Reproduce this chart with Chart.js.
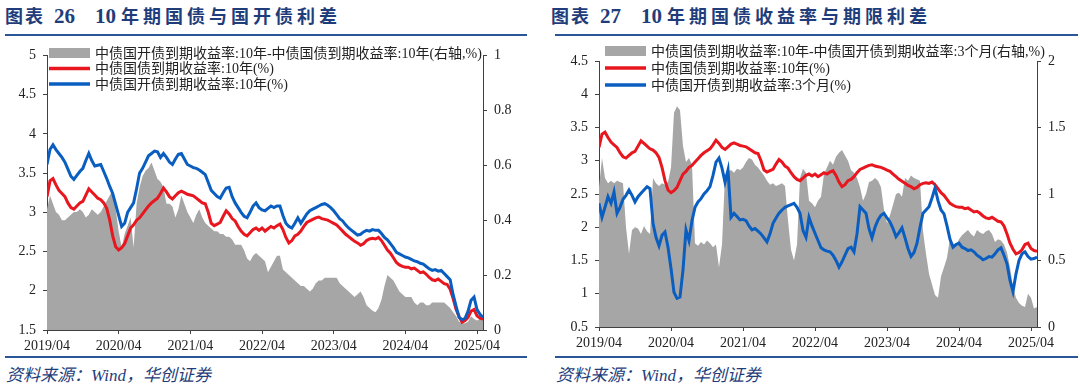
<!DOCTYPE html>
<html>
<head>
<meta charset="utf-8">
<script src="https://cdn.jsdelivr.net/npm/chart.js@4.4.1/dist/chart.umd.min.js"></script>
<style>
    body { margin: 0; background: #fff; }
    #page { position: relative; width: 1080px; height: 390px; overflow: hidden; }
    .title {
        position: absolute; top: 4px; line-height: 24px; font-size: 18px; font-weight: bold;
        color: #1f3d7a; font-family: "Liberation Serif", "Noto Sans CJK SC", serif; white-space: nowrap;
    }
    .title .cj { letter-spacing: 2px; }
    .title .cj2 { letter-spacing: 4px; }
    .title .n1 { font-size: 21px; margin-left: 9px; }
    .title .n2 { font-size: 21px; margin-left: 20px; margin-right: 5px; }
    .rule { position: absolute; height: 2px; background: #2a5599; }
    .source {
        position: absolute; top: 365px; line-height: 22px; font-size: 17px; font-style: italic;
        color: #1f3d7a; font-family: "Liberation Serif", "Noto Sans CJK SC", serif; white-space: nowrap;
    }
    canvas { position: absolute; top: 40px; }
</style>
</head>
<body>
<div id="page">
    <div class="title" style="left:5px"><span class="cj">图表</span><span class="n1">26</span><span class="n2">10</span><span class="cj2">年期国债与国开债利差</span></div>
    <div class="title" style="left:551px"><span class="cj">图表</span><span class="n1">27</span><span class="n2">10</span><span class="cj2">年期国债收益率与期限利差</span></div>
    <div class="rule" style="left:5px;width:522px;top:34px"></div>
    <div class="rule" style="left:555px;width:523px;top:34px"></div>
    <div class="rule" style="left:5px;width:522px;top:356px"></div>
    <div class="rule" style="left:555px;width:523px;top:356px"></div>
    <div class="source" style="left:6px">资料来源：Wind，华创证券</div>
    <div class="source" style="left:556px">资料来源：Wind，华创证券</div>
    <canvas id="chartSpread" width="540" height="320" style="left:0"></canvas>
    <canvas id="chartTerm" width="540" height="320" style="left:540px"></canvas>
</div>
<script>
// one point every half month, starting 2019/04
const pointsPerYear = 24;
const tickLabels = ["2019/04", "2020/04", "2021/04", "2022/04", "2023/04", "2024/04", "2025/04"];

const cgb10y = [
    3.20, 3.40, 3.43, 3.35, 3.28, 3.24, 3.20, 3.12, 3.06, 3.04,
    3.08, 3.12, 3.14, 3.22, 3.30, 3.26, 3.22, 3.18, 3.16, 3.12,
    3.05, 2.90, 2.70, 2.56, 2.52, 2.55, 2.60, 2.70, 2.80, 2.84,
    2.90, 2.93, 2.98, 3.03, 3.08, 3.12, 3.15, 3.18, 3.24, 3.31,
    3.26, 3.20, 3.17, 3.21, 3.25, 3.27, 3.25, 3.23, 3.22, 3.21,
    3.18, 3.15, 3.12, 3.11, 3.00, 2.86, 2.83, 2.85, 2.87, 2.95,
    3.02, 2.98, 2.92, 2.89, 2.82, 2.76, 2.72, 2.70, 2.74, 2.78,
    2.80, 2.77, 2.80, 2.76, 2.79, 2.82, 2.80, 2.83, 2.85, 2.78,
    2.68, 2.61, 2.64, 2.70, 2.72, 2.76, 2.82, 2.87, 2.89, 2.91,
    2.93, 2.94, 2.92, 2.91, 2.90, 2.88, 2.86, 2.84, 2.80, 2.76,
    2.72, 2.69, 2.66, 2.63, 2.61, 2.58, 2.60, 2.64, 2.66, 2.67,
    2.66, 2.68, 2.64, 2.58, 2.52, 2.48, 2.42, 2.36, 2.33, 2.31,
    2.30, 2.30, 2.28, 2.29, 2.26, 2.23, 2.24, 2.21, 2.17, 2.14,
    2.13, 2.15, 2.12, 2.09, 2.08, 2.02, 1.90, 1.76, 1.67, 1.60,
    1.62, 1.66, 1.74, 1.76, 1.68, 1.65, 1.64,
];

const cdb10y = [
    3.61, 3.80, 3.86, 3.80, 3.75, 3.70, 3.64, 3.55, 3.46, 3.42,
    3.47, 3.52, 3.56, 3.66, 3.75, 3.66, 3.59, 3.60, 3.61, 3.52,
    3.43, 3.33, 3.24, 3.10, 2.96, 2.82, 2.86, 3.00, 3.06, 3.12,
    3.30, 3.50, 3.56, 3.64, 3.72, 3.75, 3.78, 3.77, 3.70, 3.75,
    3.70, 3.64, 3.61, 3.68, 3.74, 3.75, 3.68, 3.61, 3.59, 3.57,
    3.56, 3.54, 3.51, 3.48, 3.38, 3.28, 3.24, 3.20, 3.18, 3.25,
    3.31, 3.32, 3.20, 3.12, 3.06, 3.00, 2.95, 2.93, 3.00, 3.08,
    3.12, 3.06, 3.03, 3.02, 3.05, 3.08, 3.06, 3.08, 3.08, 2.96,
    2.86, 2.82, 2.80, 2.86, 2.93, 2.86, 2.92, 2.98, 3.02, 3.04,
    3.06, 3.08, 3.10, 3.11, 3.09, 3.06, 3.02, 2.97, 2.92, 2.89,
    2.84, 2.80, 2.77, 2.74, 2.71, 2.72, 2.75, 2.77, 2.76, 2.78,
    2.77, 2.77, 2.73, 2.68, 2.65, 2.60, 2.55, 2.49, 2.47, 2.45,
    2.43, 2.42, 2.40, 2.38, 2.37, 2.35, 2.34, 2.31, 2.28, 2.26,
    2.27, 2.25, 2.26, 2.22, 2.18, 2.14, 1.95, 1.80, 1.66, 1.63,
    1.65, 1.74, 1.88, 1.92, 1.76, 1.70, 1.66,
];

const spreadCdbCgb = [
    0.44, 0.49, 0.46, 0.43, 0.42, 0.40, 0.40, 0.41, 0.42, 0.43,
    0.43, 0.44, 0.43, 0.41, 0.42, 0.44, 0.43, 0.42, 0.43, 0.45,
    0.47, 0.49, 0.51, 0.44, 0.36, 0.30, 0.35, 0.38, 0.41, 0.30,
    0.46, 0.52, 0.56, 0.58, 0.59, 0.61, 0.58, 0.55, 0.54, 0.52,
    0.46, 0.46, 0.45, 0.41, 0.44, 0.49, 0.46, 0.43, 0.41, 0.39,
    0.42, 0.44, 0.41, 0.39, 0.38, 0.37, 0.36, 0.36, 0.35, 0.35,
    0.34, 0.34, 0.33, 0.31, 0.31, 0.31, 0.29, 0.26, 0.25, 0.27,
    0.28, 0.27, 0.26, 0.25, 0.21, 0.23, 0.25, 0.27, 0.27, 0.22,
    0.21, 0.20, 0.19, 0.18, 0.17, 0.16, 0.16, 0.15, 0.14, 0.15,
    0.17, 0.18, 0.18, 0.19, 0.19, 0.19, 0.19, 0.19, 0.17, 0.16,
    0.15, 0.14, 0.13, 0.12, 0.13, 0.14, 0.12, 0.09, 0.08, 0.07,
    0.065, 0.08, 0.11, 0.16, 0.20, 0.19, 0.18, 0.16, 0.14, 0.13,
    0.12, 0.12, 0.12, 0.10, 0.09, 0.10, 0.10, 0.09, 0.09, 0.10,
    0.10, 0.10, 0.10, 0.10, 0.09, 0.08, 0.065, 0.05, 0.03, 0.025,
    0.025, 0.03, 0.05, 0.04, 0.035, 0.04, 0.04,
];

const cdb3m = [
    2.36, 2.15, 2.30, 2.46, 2.36, 2.53, 2.21, 2.30, 2.42, 2.48,
    2.56, 2.48, 2.38, 2.46, 2.51, 2.56, 2.61, 2.58, 2.06, 1.85,
    1.72, 1.88, 1.93, 1.70, 1.38, 1.02, 0.93, 0.95, 1.36, 1.96,
    1.80, 2.10, 2.30, 2.38, 2.43, 2.50, 2.55, 2.61, 2.78, 2.98,
    3.04, 2.89, 2.68, 2.86, 2.15, 2.21, 2.16, 2.11, 2.12, 2.10,
    2.02, 1.96, 1.98, 1.94, 1.90, 1.84, 1.78, 1.90, 2.06, 2.14,
    2.21, 2.26, 2.30, 2.32, 2.34, 2.36, 2.30, 2.21, 1.95, 1.85,
    2.15, 2.02, 1.91, 1.80, 1.69, 1.66, 1.64, 1.63, 1.58, 1.50,
    1.40, 1.48, 1.58, 1.68, 1.70, 1.63, 1.90, 2.31, 2.26, 2.21,
    1.98, 1.84, 2.00, 2.11, 2.18, 2.21, 2.14, 2.08, 1.98, 1.86,
    1.92, 1.99, 1.84, 1.68, 1.56, 1.62, 1.76, 2.00, 2.21, 2.26,
    2.31, 2.44, 2.59, 2.40, 2.26, 2.20, 2.02, 1.82, 1.70, 1.74,
    1.76, 1.70, 1.68, 1.65, 1.66, 1.63, 1.58, 1.55, 1.51, 1.53,
    1.56, 1.55, 1.60, 1.66, 1.69, 1.58, 1.45, 1.20, 1.03, 1.30,
    1.50, 1.60, 1.63, 1.56, 1.52, 1.53, 1.55,
];

const spreadCgbCdb3m = [
    1.05, 1.27, 1.12, 1.08, 1.10, 1.08, 1.10, 1.09, 1.08, 0.75,
    0.55, 0.73, 0.75, 0.74, 0.70, 0.76, 0.72, 0.70, 1.12, 1.08,
    1.06, 1.08, 1.07, 1.09, 1.20, 1.61, 1.66, 1.63, 1.36, 1.24,
    1.27, 1.22, 0.63, 0.61, 0.64, 0.62, 0.65, 0.63, 0.60, 0.62,
    0.45, 0.62, 1.14, 1.17, 1.18, 1.16, 1.19, 1.18, 1.20, 1.24,
    1.27, 1.26, 1.22, 1.20, 1.17, 1.14, 1.10, 1.07, 1.08, 1.06,
    1.07, 1.08, 1.06, 0.80, 0.58, 0.50, 0.62, 1.12, 1.19, 1.16,
    0.95, 0.93, 0.90, 0.95, 0.98, 1.15, 1.20, 1.25, 1.22, 1.28,
    1.31, 1.33, 1.29, 1.25, 1.18, 1.16, 1.12, 1.05, 0.95, 1.00,
    1.09, 1.10, 1.12, 1.10, 1.05, 0.88, 0.78, 0.84, 0.92, 1.00,
    1.01, 0.98, 1.12, 1.10, 1.14, 1.12, 1.11, 1.10, 0.72, 0.55,
    0.40, 0.32, 0.24, 0.22, 0.38, 0.45, 0.52, 0.67, 0.63, 0.61,
    0.66, 0.69, 0.71, 0.73, 0.70, 0.68, 0.73, 0.71, 0.70, 0.72,
    0.73, 0.70, 0.64, 0.66, 0.65, 0.62, 0.56, 0.45, 0.30, 0.22,
    0.18, 0.16, 0.15, 0.25, 0.22, 0.14, 0.15,
];

const RED = "#e8161f";
const BLUE = "#0a5ec0";
const GREY = "#a6a6a6";
const FONT = '"Liberation Serif", "Noto Sans CJK SC", serif';

const insideLegend = {
    id: "insideLegend",
    afterDraw(chart, args, opts) {
        const ctx = chart.ctx;
        ctx.save();
        ctx.font = `14px ${FONT}`;
        ctx.textBaseline = "middle";
        chart.data.datasets.forEach((ds, k) => {
            const y = opts.top + k * opts.rowHeight;
            if (ds.fill) {
                ctx.fillStyle = ds.backgroundColor;
                ctx.fillRect(opts.left, y - 5, 41, 10);
            } else {
                ctx.strokeStyle = ds.borderColor;
                ctx.lineWidth = 3.5;
                ctx.beginPath();
                ctx.moveTo(opts.left, y);
                ctx.lineTo(opts.left + 41, y);
                ctx.stroke();
            }
            ctx.fillStyle = "#222";
            ctx.fillText(ds.label, opts.left + 46, y + 1);
        });
        ctx.restore();
    },
};

function toPoints(values) {
    return values.map((y, i) => ({ x: i, y }));
}

function areaSeries(label, values) {
    return {
        label,
        data: toPoints(values),
        yAxisID: "y2",
        backgroundColor: GREY,
        borderWidth: 0,
        pointRadius: 0,
        fill: "origin",
        order: 3,
    };
}

function lineSeries(label, values, color, order) {
    return {
        label,
        data: toPoints(values),
        yAxisID: "y",
        borderColor: color,
        borderWidth: 3,
        pointRadius: 0,
        tension: 0,
        fill: false,
        order,
    };
}

function axisBase(position, width, min, max, step, padding) {
    return {
        type: "linear",
        position,
        min,
        max,
        afterFit: (scale) => { scale.width = width; },
        border: { display: true, color: "#404040", width: 1 },
        grid: { display: true, drawOnChartArea: false, drawTicks: true, tickLength: 4, color: "#404040" },
        ticks: {
            stepSize: step,
            padding,
            color: "#222",
            font: { family: FONT, size: 14 },
            callback: (v) => String(Math.round(v * 10) / 10),
        },
    };
}

function buildChart(canvasId, cfg) {
    const lastIndex = cfg.datasets[0].data.length - 1;
    return new Chart(document.getElementById(canvasId), {
        type: "line",
        data: { datasets: cfg.datasets },
        plugins: [insideLegend],
        options: {
            responsive: false,
            animation: false,
            devicePixelRatio: 1,
            layout: { padding: { top: cfg.top, left: 0, right: 0, bottom: 0 } },
            plugins: {
                legend: { display: false },
                tooltip: { enabled: false },
                insideLegend: cfg.legend,
            },
            scales: {
                x: {
                    type: "linear",
                    min: 0,
                    max: lastIndex,
                    afterFit: (scale) => { scale.height = cfg.xHeight; },
                    afterBuildTicks: (scale) => {
                        scale.ticks = tickLabels.map((_, k) => ({ value: k * pointsPerYear }));
                    },
                    border: { display: true, color: "#404040", width: 1 },
                    grid: { display: true, drawOnChartArea: false, drawTicks: true, tickLength: 4, color: "#404040" },
                    ticks: {
                        padding: 4,
                        maxRotation: 0,
                        autoSkip: false,
                        color: "#222",
                        font: { family: FONT, size: 14 },
                        callback: (v) => tickLabels[Math.round(v / pointsPerYear)],
                    },
                },
                y: axisBase("left", cfg.leftWidth, cfg.yMin, cfg.yMax, cfg.yStep, 7),
                y2: axisBase("right", cfg.rightWidth, cfg.y2Min, cfg.y2Max, cfg.y2Step, 7),
            },
        },
    });
}

buildChart("chartSpread", {
    datasets: [
        areaSeries("中债国开债到期收益率:10年-中债国债到期收益率:10年(右轴,%)", spreadCdbCgb),
        lineSeries("中债国债到期收益率:10年(%)", cgb10y, RED, 2),
        lineSeries("中债国开债到期收益率:10年(%)", cdb10y, BLUE, 1),
    ],
    top: 13, xHeight: 30, leftWidth: 47, rightWidth: 57,
    yMin: 1.5, yMax: 5, yStep: 0.5,
    y2Min: 0, y2Max: 1, y2Step: 0.2,
    legend: { left: 49, top: 13, rowHeight: 15.5 },
});

buildChart("chartTerm", {
    datasets: [
        areaSeries("中债国债到期收益率:10年-中债国开债到期收益率:3个月(右轴,%)", spreadCgbCdb3m),
        lineSeries("中债国债到期收益率:10年(%)", cgb10y, RED, 2),
        lineSeries("中债国开债到期收益率:3个月(%)", cdb3m, BLUE, 1),
    ],
    top: 21, xHeight: 33, leftWidth: 59, rightWidth: 43,
    yMin: 0.5, yMax: 4.5, yStep: 0.5,
    y2Min: 0, y2Max: 2, y2Step: 0.5,
    legend: { left: 65, top: 11, rowHeight: 17 },
});
</script>
</body>
</html>
